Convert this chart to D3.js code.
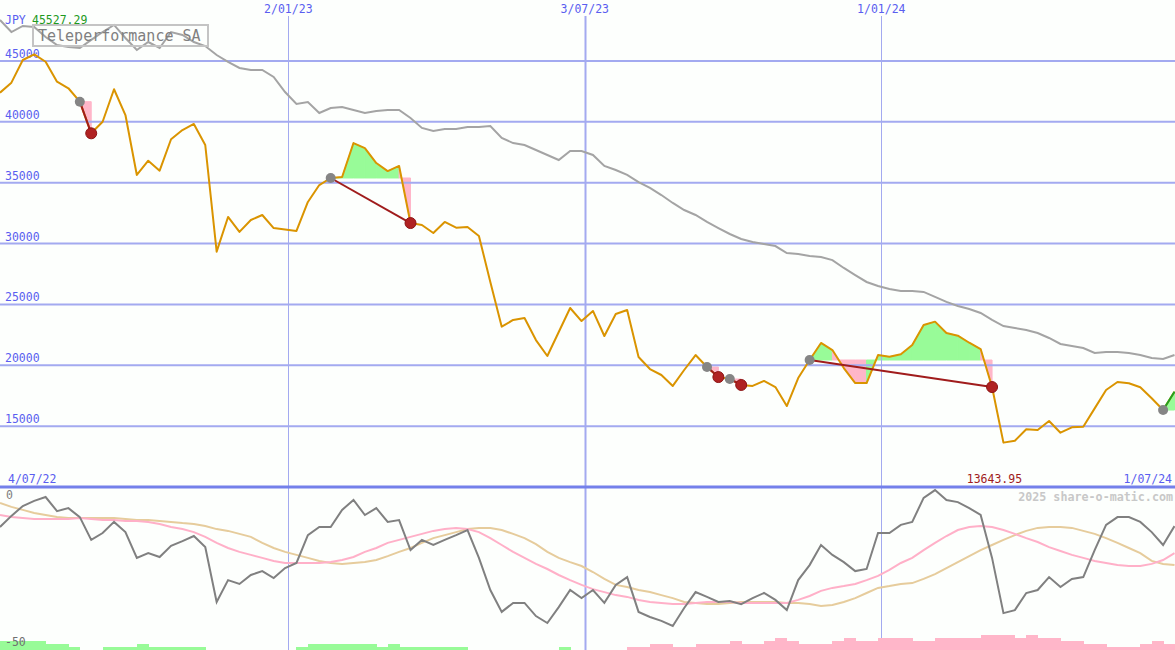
<!DOCTYPE html>
<html><head><meta charset="utf-8">
<script src="https://cdn.jsdelivr.net/npm/d3@7"></script>
<style>body{margin:0;background:#fdfffd} svg{display:block}</style>
</head><body><svg id="c" width="1175" height="650"></svg>
<script>
const startDate = "2022-07-09";
const closes = [42390, 43210, 45070, 45527.29, 44930, 43290, 42750, 41650, 39050, 40000,
  42670, 40550, 35630, 36800, 35980, 38560, 39320, 39820, 38090, 29330,
  32180, 30950, 31930, 32340, 31270, 31150, 31030, 33410, 34800, 35380,
  35460, 38250, 37840, 36610, 35950, 36370, 31680, 31520, 30860, 31770,
  31300, 31350, 30620, 26840, 23170, 23720, 23880, 22070, 20760, 22730,
  24700, 23630, 24460, 22400, 24210, 24540, 20680, 19690, 19200, 18300,
  19610, 20840, 19860, 19030, 18870, 18380, 18300, 18710, 18210, 16650,
  18950, 20430, 21830, 21250, 19770, 18540, 18540, 20840, 20700, 20900,
  21660, 23310, 23580, 22650, 22430, 21850, 21330, 18210, 13643.95, 13800,
  14740, 14680, 15420, 14460, 14900, 14950, 16460, 17970, 18620, 18520,
  18190, 17290, 16320, 17830];
const movingAvg = [48360, 47370, 47870, 47780, 46960, 46300, 46140, 46060, 46720, 47370,
  47950, 46880, 45890, 46550, 46060, 47370, 47130, 46550, 46220, 45480,
  44910, 44420, 44250, 44250, 43680, 42440, 41460, 41620, 40720, 41130,
  41210, 40970, 40720, 40880, 40970, 40970, 40310, 39490, 39240, 39400,
  39400, 39570, 39570, 39650, 38670, 38250, 38090, 37680, 37270, 36860,
  37600, 37600, 37270, 36370, 36040, 35630, 35050, 34560, 33980, 33330,
  32750, 32340, 31770, 31270, 30780, 30370, 30120, 29960, 29790, 29220,
  29140, 28970, 28890, 28640, 27990, 27410, 26840, 26510, 26260, 26100,
  26100, 26020, 25610, 25200, 24870, 24620, 24290, 23720, 23220, 23060,
  22900, 22650, 22240, 21750, 21580, 21420, 21010, 21090, 21090, 21010,
  20840, 20600, 20510, 20840];
const oscMain = [-13, -9.3, -6, -4.3, -3, -7.7, -6.7, -9.7, -17.3, -15,
  -11.3, -14.7, -23.3, -21.7, -23, -19.3, -17.7, -16, -19.7, -38,
  -30.7, -32, -29, -27.7, -30, -26.7, -25, -15.7, -13, -13,
  -7.3, -4, -9, -6.7, -11.3, -10.7, -20.7, -17.3, -19, -17.3,
  -15.7, -14, -23.3, -34, -41.3, -38.3, -38.3, -42.7, -45, -39.7,
  -34, -36.7, -34, -38.3, -32.3, -29.7, -41.3, -43, -44.3, -46,
  -40, -34.7, -36.3, -38, -37.7, -38.7, -36.7, -35, -37.3, -40.7,
  -30.7, -25.7, -19, -22.3, -24.7, -27.7, -27, -15, -15, -12.3,
  -11.3, -3.3, -0.7, -4, -4.7, -6.7, -9, -23.3, -41.7, -40.7,
  -35, -34, -29.7, -33, -30.3, -29.7, -20.7, -12.3, -9.7, -9.7,
  -11.3, -14.7, -19, -12.7];
const oscFast = [-9, -9.7, -10, -10.3, -10.3, -10.3, -10.3, -10, -10.3, -10.7,
  -10.7, -11, -11, -11.3, -12, -13, -13.7, -14.7, -16.3, -18.3,
  -20, -21.3, -22.3, -23.3, -24.3, -25, -25, -25, -25, -24.7,
  -24, -23, -21.3, -20, -18.3, -17.3, -16.3, -15.3, -14.3, -13.7,
  -13.3, -13.7, -14.7, -16.7, -19, -21.3, -23.3, -25.3, -27, -29,
  -30.7, -32.3, -33.7, -34.7, -35.7, -36.3, -37.3, -38, -38.3, -38.7,
  -38.7, -38.3, -38, -38, -38, -38.3, -38.3, -38.3, -38.3, -38.3,
  -37.3, -36, -34.3, -33.3, -32.7, -32, -30.7, -29.3, -27.3, -25,
  -23.3, -20.7, -18.3, -16, -14, -13, -12.7, -13, -14, -15.3,
  -16.7, -18, -19.7, -21, -22.3, -23.3, -24.3, -25, -25.7, -26,
  -26, -25.3, -24, -21.7];
const oscSlow = [-5, -6.3, -7.3, -8.3, -9, -9.7, -10, -10, -10, -10,
  -10, -10.3, -10.7, -10.7, -11, -11.3, -11.7, -12, -12.7, -13.7,
  -14.3, -15.3, -16.3, -18.3, -20, -21.3, -22.3, -23.3, -24.3, -25,
  -25.3, -25, -24.7, -24, -22.7, -21.3, -20, -18.3, -16.7, -15.7,
  -14.7, -13.7, -13.3, -13.3, -14, -15.3, -16.7, -18.7, -21.3, -23.3,
  -24.7, -26, -28, -30.3, -32.3, -33, -34, -34.7, -35.7, -36.7,
  -38, -38.3, -38.7, -38.7, -38.3, -38, -38, -38, -38, -38.3,
  -38.3, -38.7, -39.3, -39, -38, -36.7, -35, -33.3, -32.7, -32,
  -31.7, -30.3, -28.7, -26.7, -24.7, -22.7, -20.7, -19, -17.3, -15.7,
  -14.3, -13.3, -13, -13, -13.3, -14.3, -15.3, -16.7, -18.3, -20,
  -21.7, -24.3, -25.3, -25.7];
const histogram = [3, 3, 3, 3, 2, 2, 1, 0, 0, 1,
  1, 1, 2, 1, 1, 1, 1, 1, 0, 0,
  0, 0, 0, 0, 0, 0, 1, 2, 2, 2,
  2, 2, 2, 1, 2, 1, 1, 1, 1, 1,
  1, 0, 0, 0, 0, 0, 0, 0, 0, 1,
  0, 0, 0, 0, 0, -1, -1, -2, -2, -1,
  -1, -2, -2, -2, -3, -2, -2, -3, -4, -3,
  -2, -2, -2, -3, -4, -3, -3, -4, -4, -4,
  -3, -3, -4, -4, -4, -4, -5, -5, -5, -4,
  -5, -4, -4, -3, -3, -2, -2, -1, -1, -1,
  -2, -3, -2];
const trades = [[7, 8], [29, 36], [62, 63], [64, 65], [71, 87], [102, null]];
const priceTicks = [15000, 20000, 25000, 30000, 35000, 40000, 45000];
const dateTicks = ["2023-01-02", "2023-07-03", "2024-01-01"];
const dateTickLabels = ["2/01/23", "3/07/23", "1/01/24"];
const firstLabel = "4/07/22", lastLabel = "1/07/24";
const title = "Teleperformance SA", currency = "JPY";

const W = 1175, H = 650, SPLIT = 487;
const svg = d3.select("#c");
const mono = "'DejaVu Sans Mono', 'Liberation Mono', monospace";
const t0 = new Date(startDate + "T00:00:00Z");
const dates = closes.map((_, i) => d3.utcDay.offset(t0, 7 * i));
const x = d3.scaleUtc().domain([dates[0], dates[dates.length - 1]]).range([0, 1174.5]);
const y = d3.scaleLinear().domain([10000, 50000]).range([SPLIT, 0]);
const yo = d3.scaleLinear().domain([-54, 0]).range([H, 488]);
const yh = d3.scaleLinear().domain([0, 5]).range([0, 15]);

svg.append("rect").attr("width", W).attr("height", H).attr("fill", "#fdfffd");

// trade fills
const gFill = svg.append("g");
trades.forEach(([e, xIdx]) => {
  const end = xIdx == null ? closes.length - 1 : xIdx;
  const E = closes[e];
  for (let k = e; k < end; k++) {
    const pts = [[x(dates[k]), y(E)], [x(dates[k]), y(closes[k])],
                 [x(dates[k + 1]), y(closes[k + 1])], [x(dates[k + 1]), y(E)]];
    const col = closes[k + 1] >= E ? "#98fb98" : "#ffb6c9";
    gFill.append("path").attr("d", d3.line()(pts) + "Z")
      .attr("fill", col).attr("stroke", col).attr("stroke-width", 1)
      .attr("stroke-linejoin", "miter");
  }
});

// horizontal grid
svg.append("g").selectAll("line").data(priceTicks).join("line")
  .attr("x1", 0).attr("x2", W).attr("y1", d => y(d)).attr("y2", d => y(d))
  .attr("stroke", "#a3aaf0").attr("stroke-width", 2);
svg.append("g").selectAll("text").data(priceTicks).join("text")
  .attr("x", 5).attr("y", d => y(d) - 3).text(d => d)
  .attr("fill", "#5a5ef0").style("font", "11.5px " + mono);

// vertical grid
const dt = dateTicks.map(s => new Date(s + "T00:00:00Z"));
svg.append("g").selectAll("line").data(dt).join("line")
  .attr("x1", d => Math.round(x(d)) + 0.5).attr("x2", d => Math.round(x(d)) + 0.5)
  .attr("y1", 16).attr("y2", H)
  .attr("stroke", "#a3aaf0").attr("stroke-width", d => d.getUTCMonth() === 6 ? 2 : 1);
svg.append("g").selectAll("text").data(dt).join("text")
  .attr("x", d => x(d)).attr("y", 13).attr("text-anchor", "middle")
  .text((d, i) => dateTickLabels[i])
  .attr("fill", "#5a5ef0").style("font", "11.5px " + mono);

// moving average
svg.append("path").datum(movingAvg)
  .attr("d", d3.line().x((d, i) => x(dates[i])).y(d => y(d)))
  .attr("fill", "none").attr("stroke", "#a4a4a4").attr("stroke-width", 2);

// title box
svg.append("rect").attr("x", 33).attr("y", 25).attr("width", 175).attr("height", 21)
  .attr("fill", "none").attr("stroke", "#c4c4c4").attr("stroke-width", 2);
svg.append("text").attr("x", 38).attr("y", 41).text(title)
  .attr("fill", "#808080").style("font", "15px " + mono);

// price line
svg.append("path").datum(closes)
  .attr("d", d3.line().x((d, i) => x(dates[i])).y(d => y(d)))
  .attr("fill", "none").attr("stroke", "#da9400").attr("stroke-width", 2)
  .attr("stroke-linejoin", "round");

// trade lines and dots
trades.forEach(([e, xIdx]) => {
  if (xIdx != null) {
    svg.append("line")
      .attr("x1", x(dates[e])).attr("y1", y(closes[e]))
      .attr("x2", x(dates[xIdx])).attr("y2", y(closes[xIdx]))
      .attr("stroke", "#a01c1c").attr("stroke-width", 2);
  } else {
    const n = closes.length - 1;
    svg.append("line")
      .attr("x1", x(dates[e])).attr("y1", y(closes[e]))
      .attr("x2", x(dates[n])).attr("y2", y(closes[n]))
      .attr("stroke", "#22a022").attr("stroke-width", 2);
  }
});
trades.forEach(([e, xIdx]) => {
  svg.append("circle").attr("cx", x(dates[e])).attr("cy", y(closes[e])).attr("r", 5)
    .attr("fill", "#858585");
  if (xIdx != null)
    svg.append("circle").attr("cx", x(dates[xIdx])).attr("cy", y(closes[xIdx])).attr("r", 5.5)
      .attr("fill", "#b02222").attr("stroke", "#8c1414").attr("stroke-width", 1);
});

// top-left labels
svg.append("text").attr("x", 5).attr("y", 24).text(currency)
  .attr("fill", "#5a5ef0").style("font", "11.5px " + mono);
const maxV = d3.max(closes);
svg.append("text").attr("x", 32).attr("y", 24).text(maxV.toFixed(2))
  .attr("fill", "#1f9a1f").style("font", "11.5px " + mono);

// bottom labels of price panel
svg.append("text").attr("x", 8).attr("y", 483).text(firstLabel)
  .attr("fill", "#5a5ef0").style("font", "11.5px " + mono);
svg.append("text").attr("x", 1172).attr("y", 483).attr("text-anchor", "end").text(lastLabel)
  .attr("fill", "#5a5ef0").style("font", "11.5px " + mono);
const minV = d3.min(closes), minI = closes.indexOf(minV);
svg.append("text").attr("x", x(dates[minI]) - 9).attr("y", 483).attr("text-anchor", "middle")
  .text(minV.toFixed(2)).attr("fill", "#a01c1c").style("font", "11.5px " + mono);

// separator
svg.append("line").attr("x1", 0).attr("x2", W).attr("y1", SPLIT).attr("y2", SPLIT)
  .attr("stroke", "#7480ea").attr("stroke-width", 3);

// lower panel
svg.append("text").attr("x", 1173).attr("y", 501).attr("text-anchor", "end")
  .text("2025 share-o-matic.com").attr("fill", "#c8c8c8")
  .style("font", "bold 11.7px " + mono);

svg.append("g").attr("shape-rendering", "crispEdges").selectAll("rect").data(histogram).join("rect")
  .attr("x", (d, i) => x(dates[i])).attr("width", (d, i) => x(dates[i + 1]) - x(dates[i]) + 0.5)
  .attr("y", d => H - yh(Math.abs(d))).attr("height", d => yh(Math.abs(d)))
  .attr("fill", d => d > 0 ? "#98fb98" : "#ffb6c9");

const oscLine = d3.line().x((d, i) => x(dates[i])).y(d => yo(d));
svg.append("path").datum(oscSlow).attr("d", oscLine)
  .attr("fill", "none").attr("stroke", "#e6cc9c").attr("stroke-width", 2);
svg.append("path").datum(oscFast).attr("d", oscLine)
  .attr("fill", "none").attr("stroke", "#ffb0c8").attr("stroke-width", 2);
svg.append("path").datum(oscMain).attr("d", oscLine)
  .attr("fill", "none").attr("stroke", "#808080").attr("stroke-width", 2);

svg.append("text").attr("x", 6).attr("y", 499).text("0")
  .attr("fill", "#808080").style("font", "11.5px " + mono);
svg.append("text").attr("x", 5).attr("y", 646).text("-50")
  .attr("fill", "#707070").style("font", "11.5px " + mono);
</script></body></html>
